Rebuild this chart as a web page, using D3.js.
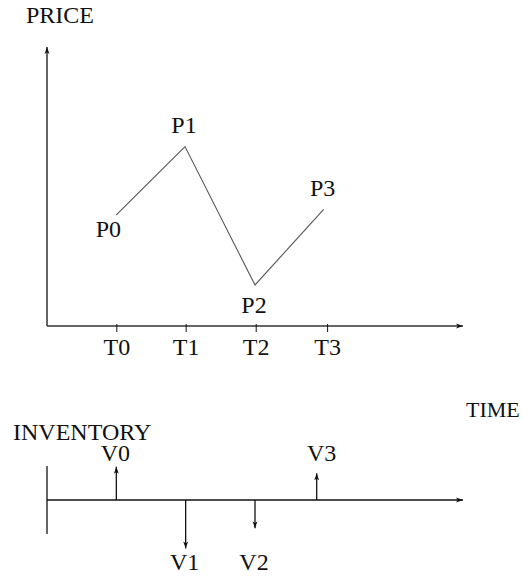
<!DOCTYPE html>
<html>
<head>
<meta charset="utf-8">
<script src="https://cdn.jsdelivr.net/npm/d3@7"></script>
<style>
  body { margin: 0; background: #fff; }
  text { font-family: "Liberation Serif", "DejaVu Serif", serif; fill: #111; }
</style>
</head>
<body>
<div id="chart"></div>
<script>
// time ticks on the price axis
var tickTimes = [1.0, 2.0, 3.01, 4.04];
var tickLabels = ["T0", "T1", "T2", "T3"];

// price path
var priceTimes = [1.0, 1.99, 3.0, 3.99];
var priceValues = [3.98, 6.43, 1.47, 4.18];
var priceLabels = ["P0", "P1", "P2", "P3"];

// inventory changes
var invTimes = [1.0, 2.0, 3.0, 3.89];
var invValues = [1.21, -1.76, -1.03, 0.97];
var invLabels = ["V0", "V1", "V2", "V3"];

var width = 523, height = 579;

var svg = d3.select("#chart").append("svg")
    .attr("width", width).attr("height", height);

// arrow head used on axes and inventory arrows
svg.append("defs").append("marker")
    .attr("id", "arrow")
    .attr("viewBox", "0 0 10 10")
    .attr("refX", 10).attr("refY", 5)
    .attr("markerUnits", "userSpaceOnUse")
    .attr("markerWidth", 7).attr("markerHeight", 7)
    .attr("orient", "auto")
    .append("path")
    .attr("d", "M0,1.5 L10,5 L0,8.5 L2.5,5 Z")
    .attr("fill", "#111");

// scales
var x = d3.scaleLinear().domain([0, 6]).range([47, 463]);
var yPrice = d3.scaleLinear().domain([0, 10]).range([326, 47]);
var yInv = d3.scaleLinear().domain([-2, 2]).range([555, 445]);

// ****************** price panel ******************
var pricePanel = svg.append("g");

// axes lines with arrows
pricePanel.append("line")
    .attr("x1", x(0)).attr("y1", yPrice(0))
    .attr("x2", x(0)).attr("y2", yPrice(10))
    .attr("stroke", "#111").attr("stroke-width", 1.3)
    .attr("marker-end", "url(#arrow)");

pricePanel.append("line")
    .attr("x1", x(0)).attr("y1", yPrice(0))
    .attr("x2", x(6)).attr("y2", yPrice(0))
    .attr("stroke", "#333").attr("stroke-width", 1.3)
    .attr("marker-end", "url(#arrow)");

// time ticks via d3 axis
var xAxis = d3.axisBottom(x)
    .tickValues(tickTimes)
    .tickFormat(function (d, i) { return tickLabels[i]; })
    .tickSize(6)
    .tickPadding(6);

var gx = pricePanel.append("g")
    .attr("transform", "translate(0," + yPrice(0) + ")")
    .call(xAxis);
gx.select(".domain").remove();
gx.attr("font-family", null).attr("font-size", null);
gx.selectAll(".tick line").attr("y1", -2).attr("stroke", "#111");
gx.selectAll(".tick text")
    .style("font-size", "24px")
    .attr("fill", "#111");

// price line
var line = d3.line()
    .x(function (d, i) { return x(priceTimes[i]); })
    .y(function (d) { return yPrice(d); });

pricePanel.append("path")
    .datum(priceValues)
    .attr("d", line)
    .attr("fill", "none")
    .attr("stroke", "#555")
    .attr("stroke-width", 1.1);

// point labels (offsets relative to each point)
var priceLabelOffsets = [[-8, 22], [-1, -14], [-1, 28], [-1, -13]];
pricePanel.selectAll("text.plabel")
    .data(priceValues)
    .enter().append("text")
    .attr("class", "plabel")
    .attr("x", function (d, i) { return x(priceTimes[i]) + priceLabelOffsets[i][0]; })
    .attr("y", function (d, i) { return yPrice(d) + priceLabelOffsets[i][1]; })
    .attr("text-anchor", "middle")
    .style("font-size", "24px")
    .text(function (d, i) { return priceLabels[i]; });

pricePanel.append("text")
    .attr("x", 26).attr("y", 23)
    .style("font-size", "24px")
    .text("PRICE");

// ****************** inventory panel ******************
var invPanel = svg.append("g");

invPanel.append("line")
    .attr("x1", x(0)).attr("y1", yInv(1.24))
    .attr("x2", x(0)).attr("y2", yInv(-1.24))
    .attr("stroke", "#111").attr("stroke-width", 1.3);

invPanel.append("line")
    .attr("x1", x(0)).attr("y1", yInv(0))
    .attr("x2", x(6)).attr("y2", yInv(0))
    .attr("stroke", "#111").attr("stroke-width", 1.3)
    .attr("marker-end", "url(#arrow)");

invPanel.selectAll("line.inv")
    .data(invValues)
    .enter().append("line")
    .attr("class", "inv")
    .attr("x1", function (d, i) { return x(invTimes[i]); })
    .attr("x2", function (d, i) { return x(invTimes[i]); })
    .attr("y1", yInv(0))
    .attr("y2", function (d) { return yInv(d); })
    .attr("stroke", "#111").attr("stroke-width", 1.3)
    .attr("marker-end", "url(#arrow)");

// labels sit on a row above or below the axis
invPanel.selectAll("text.vlabel")
    .data(invValues)
    .enter().append("text")
    .attr("class", "vlabel")
    .attr("x", function (d, i) { return x(invTimes[i]) + (i == 3 ? 5 : -1); })
    .attr("y", function (d) { return d > 0 ? yInv(0) - 39 : yInv(0) + 70; })
    .attr("text-anchor", "middle")
    .style("font-size", "24px")
    .text(function (d, i) { return invLabels[i]; });

invPanel.append("text")
    .attr("x", 13).attr("y", 440)
    .style("font-size", "24px")
    .text("INVENTORY");

invPanel.append("text")
    .attr("x", 466).attr("y", 417)
    .style("font-size", "22px")
    .text("TIME");
</script>
</body>
</html>
